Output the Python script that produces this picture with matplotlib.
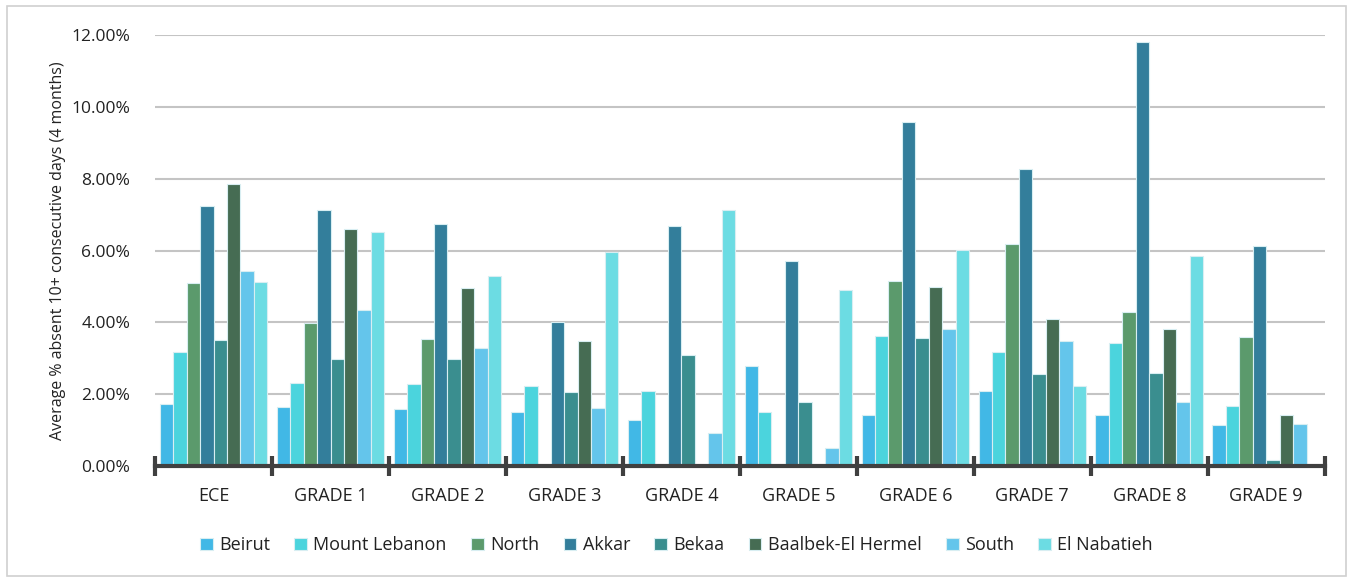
import numpy as np
import matplotlib.pyplot as plt
from matplotlib.patches import Rectangle
from matplotlib.ticker import PercentFormatter

grades = ['ECE', 'GRADE 1', 'GRADE 2', 'GRADE 3', 'GRADE 4',
          'GRADE 5', 'GRADE 6', 'GRADE 7', 'GRADE 8', 'GRADE 9']
regions = ['Beirut', 'Mount Lebanon', 'North', 'Akkar', 'Bekaa',
           'Baalbek-El Hermel', 'South', 'El Nabatieh']

# average % absent 10+ consecutive days, per region, ECE .. Grade 9
beirut = [1.74, 1.64, 1.59, 1.50, 1.27, 2.79, 1.42, 2.09, 1.42, 1.14]
mount_lebanon = [3.17, 2.31, 2.28, 2.22, 2.09, 1.51, 3.63, 3.17, 3.42, 1.68]
north = [5.09, 3.97, 3.54, 0.00, 0.00, 0.00, 5.15, 6.17, 4.30, 3.59]
akkar = [7.23, 7.12, 6.75, 4.02, 6.69, 5.71, 9.57, 8.27, 11.80, 6.12]
bekaa = [3.51, 2.97, 2.97, 2.05, 3.09, 1.79, 3.57, 2.55, 2.59, 0.16]
baalbek = [7.86, 6.60, 4.95, 3.48, 0.00, 0.00, 4.98, 4.09, 3.81, 1.42]
south = [5.43, 4.35, 3.30, 1.61, 0.92, 0.51, 3.81, 3.48, 1.79, 1.16]
nabatieh = [5.13, 6.53, 5.30, 5.95, 7.12, 4.91, 6.02, 2.24, 5.86, 0.00]

series = [beirut, mount_lebanon, north, akkar, bekaa, baalbek, south, nabatieh]
colors = ['#41b8e6', '#4bd4dd', '#5b9a6c', '#337e9b', '#3a8e8f',
          '#466c53', '#64c5eb', '#6cdce3']

plt.rcParams['font.family'] = ['Open Sans', 'DejaVu Sans']

fig = plt.figure(figsize=(13.53, 5.79), dpi=100)
ax = fig.add_axes([0.1146, 0.195, 0.8645, 0.7445])

x = np.arange(len(grades))
w = 0.115
for i, (name, vals, c) in enumerate(zip(regions, series, colors)):
    ax.bar(x + (i - 3.5) * w, vals, width=w, color=c, edgecolor='#d8eef2',
           linewidth=0.8, label=name, zorder=3)

ax.set_xlim(-0.5, len(grades) - 0.5)
ax.set_ylim(0, 12)
ax.set_yticks(np.arange(0, 12.1, 2))
ax.yaxis.set_major_formatter(PercentFormatter(decimals=2))
ax.grid(axis='y', color='#c4c4c4', linewidth=1.5, zorder=0)
ax.set_axisbelow(True)

for s in ['top', 'right', 'left']:
    ax.spines[s].set_visible(False)
ax.spines['bottom'].set_color('#404040')
ax.spines['bottom'].set_linewidth(3)
ax.spines['bottom'].set_zorder(4)

ax.set_xticks(x)
ax.set_xticklabels(grades)
ax.set_xticks(np.arange(-0.5, len(grades)), minor=True)
ax.tick_params(axis='x', which='major', length=0, pad=15, labelsize=13,
               labelcolor='#222222')
ax.tick_params(axis='x', which='minor', length=14, width=3,
               direction='inout', color='#404040')
ax.tick_params(axis='y', length=0, pad=18, labelsize=12.5, labelcolor='#222222')

ax.set_ylabel('Average % absent 10+ consecutive days (4 months)',
              fontsize=11.5, color='#222222', labelpad=4)

fig.legend(loc='center', bbox_to_anchor=(0.5, 0.058), ncol=8, frameon=False,
           fontsize=13, handlelength=0.7, handleheight=0.7,
           handletextpad=0.35, columnspacing=1.35, labelcolor='#222222')

fig.patches.append(Rectangle((0.005, 0.005), 0.99, 0.985,
                             transform=fig.transFigure, fill=False,
                             edgecolor='#d0d0d0', linewidth=1.2))

fig.savefig('out.png', dpi=100)
